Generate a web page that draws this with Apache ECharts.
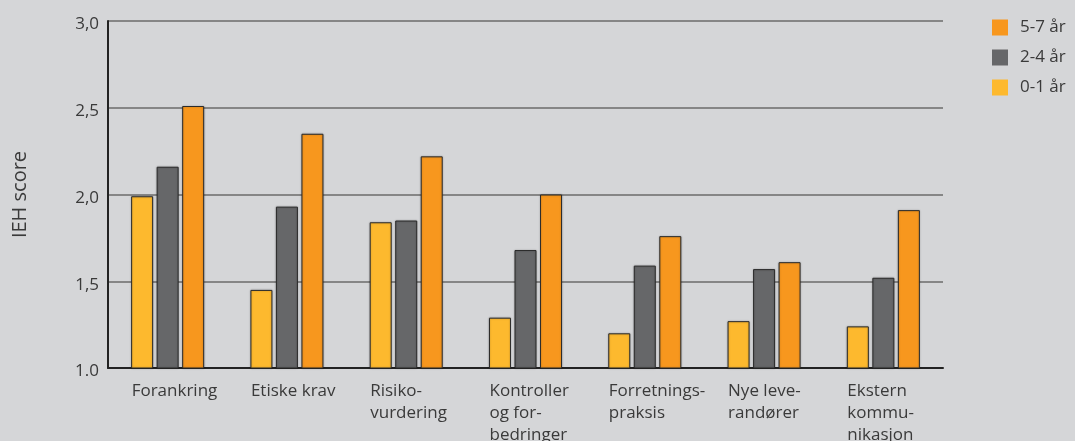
<!DOCTYPE html>
<html><head><meta charset="utf-8">
<script src="https://cdn.jsdelivr.net/npm/echarts@6/dist/echarts.min.js"></script>
<style>html,body{margin:0;padding:0;background:#d5d6d8;}#c{width:1075px;height:441px;}</style>
</head><body><div id="c"></div>
<script>
const categories = ['Forankring', 'Etiske krav', 'Risiko-\nvurdering', 'Kontroller\nog for-\nbedringer', 'Forretnings-\npraksis', 'Nye leve-\nrandører', 'Ekstern\nkommu-\nnikasjon'];
const seriesNames = ['0-1 år', '2-4 år', '5-7 år'];
const values01 = [1.99, 1.45, 1.84, 1.29, 1.20, 1.27, 1.24];
const values24 = [2.16, 1.93, 1.85, 1.68, 1.59, 1.57, 1.52];
const values57 = [2.51, 2.35, 2.22, 2.00, 1.76, 1.61, 1.91];
const yTickLabels = {1: '1.0', 1.5: '1,5', 2: '2,0', 2.5: '2,5', 3: '3,0'};
const colors = ['#fdb92e', '#666769', '#f7971e'];
const font = 'Open Sans, sans-serif';
const txt = '#3a3a3a';

const chart = echarts.init(document.getElementById('c'));
const mk = (name, data, color) => ({
  name, type: 'bar', data, xAxisIndex: 0, yAxisIndex: 0,
  barWidth: 22, barGap: '16%',
  itemStyle: { color, borderColor: '#2b2b2b', borderWidth: 1, shadowColor: 'rgba(0,0,0,0.25)', shadowBlur: 2 }
});
chart.setOption({
  backgroundColor: '#d5d6d8',
  animation: false,
  textStyle: { fontFamily: font },
  legend: {
    orient: 'vertical', left: 987, top: 14, itemWidth: 16, itemHeight: 16, itemGap: 13,
    data: ['5-7 år', '2-4 år', '0-1 år'],
    icon: 'rect',
    itemStyle: { borderWidth: 0, shadowBlur: 0 },
    textStyle: { fontSize: 17, color: txt, fontFamily: font, padding: [0, 0, 0, 7] }
  },
  grid: [
    { left: 108, right: 132, top: 21, bottom: 73, containLabel: false, outerBoundsMode: 'none' },
    { left: 72, right: 168, top: 21, bottom: 73, containLabel: false, outerBoundsMode: 'none' }
  ],
  xAxis: [
    { type: 'category', data: categories, gridIndex: 0,
      axisLine: { lineStyle: { color: '#222', width: 2 } }, axisTick: { show: false }, axisLabel: { show: false } },
    { type: 'category', data: categories, gridIndex: 1,
      axisLine: { show: false }, axisTick: { show: false },
      axisLabel: { align: 'left', margin: 12, fontSize: 17, lineHeight: 22, color: txt, fontFamily: font, interval: 0 } }
  ],
  yAxis: [
    { type: 'value', min: 1, max: 3, interval: 0.5, gridIndex: 0,
      name: 'IEH score', nameLocation: 'middle', nameGap: 78, nameRotate: 90,
      nameTextStyle: { fontSize: 20, color: txt, fontFamily: font },
      axisLine: { show: true, lineStyle: { color: '#222', width: 2 } }, axisTick: { show: false },
      axisLabel: { margin: 9, formatter: v => '{t|' + (yTickLabels[v] || '') + '}',
        rich: { t: { fontSize: 17, color: txt, fontFamily: font, padding: [7, 0, 0, 0] } } },
      splitLine: { lineStyle: { color: '#6b6b6b', width: 1.5 } } },
    { type: 'value', min: 0, max: 1, gridIndex: 1, show: false }
  ],
  series: [mk(seriesNames[0], values01, colors[0]), mk(seriesNames[1], values24, colors[1]), mk(seriesNames[2], values57, colors[2])]
});
</script></body></html>
